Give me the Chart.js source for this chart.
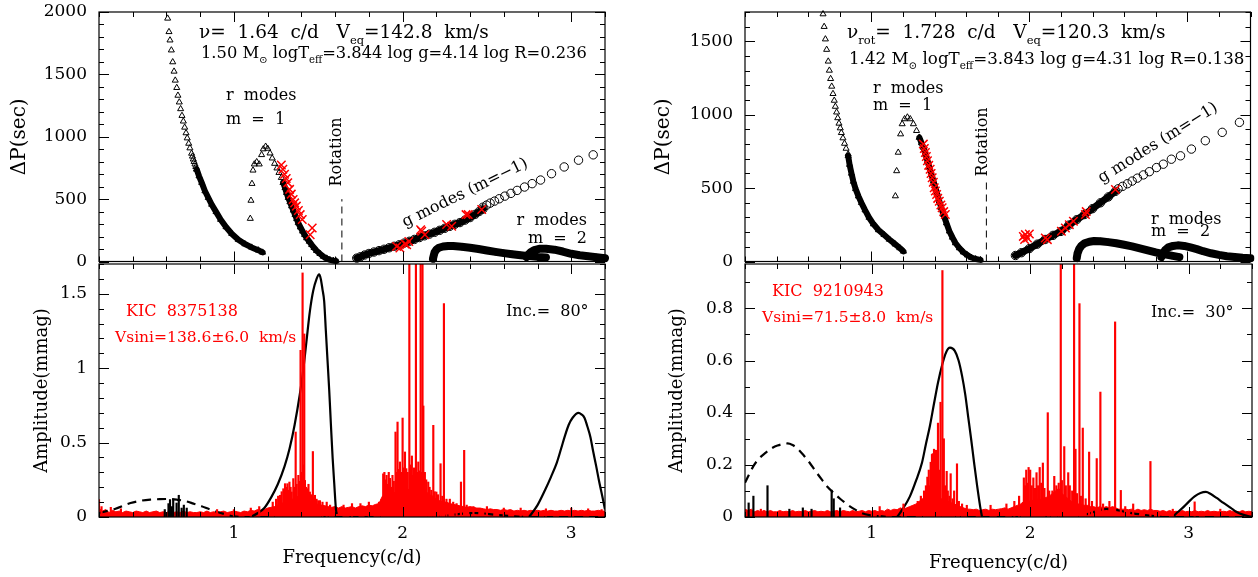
<!DOCTYPE html>
<html>
<head>
<meta charset="utf-8">
<script src="https://cdn.jsdelivr.net/npm/chart.js@4.4.1/dist/chart.umd.min.js"></script>
<style>
  body { margin: 0; background: #fff; width: 1258px; height: 577px; position: relative; overflow: hidden; }
  canvas { position: absolute; }
</style>
</head>
<body>
<canvas id="lt" width="615" height="269" style="left:0;top:0"></canvas>
<canvas id="lb" width="615" height="315" style="left:0;top:262px"></canvas>
<canvas id="rt" width="618" height="269" style="left:640px;top:0"></canvas>
<canvas id="rb" width="618" height="315" style="left:640px;top:262px"></canvas>
<script>
// ---------- KIC 8375138 (left) : period spacing model, [freq c/d, dP sec] ----------
const ltRot = 1.64;
const ltR1Sparse = [[0.607,1949],[0.615,1841],[0.621,1774],[0.629,1694],[0.637,1599],[0.645,1524],[0.652,1452],[0.661,1393],[0.668,1331],[0.676,1277],[0.684,1223],[0.692,1169],[0.700,1124],[0.708,1075],[0.716,1030],[0.723,989],[0.732,946],[0.739,909],[0.749,866],[0.754,843],[0.759,820],[0.764,800],[0.769,780],[0.774,760],[0.779,739]];
const ltR1Dense = [[0.779,739],[0.793,685],[0.809,632],[0.828,565],[0.848,511],[0.868,457],[0.894,398],[0.921,336],[0.953,277],[0.987,223],[1.026,175],[1.065,140],[1.105,113],[1.144,91],[1.170,73]];
const ltR1bSparse = [[1.097,344],[1.101,489],[1.107,624],[1.113,731],[1.121,780],[1.135,798],[1.150,780],[1.164,855],[1.174,901],[1.188,922],[1.200,906],[1.214,868],[1.227,828],[1.241,785],[1.255,748],[1.267,712],[1.281,672],[1.292,632]];
const ltR1bDense = [[1.292,632],[1.303,591],[1.312,551],[1.322,511],[1.332,477],[1.342,444],[1.352,410],[1.362,376],[1.372,342],[1.381,309],[1.394,275],[1.407,242],[1.419,215],[1.431,188],[1.446,161],[1.461,134],[1.475,110],[1.490,86],[1.510,62],[1.530,40],[1.550,25],[1.569,13],[1.590,7],[1.605,4]];
const ltGSparse = [[2.476,435],[2.498,452],[2.519,468],[2.545,484],[2.573,503],[2.606,524],[2.642,546],[2.679,570],[2.723,597],[2.768,624],[2.818,653],[2.883,704],[2.958,758],[3.043,812],[3.130,855]];
const ltGDense = [[1.728,27],[1.750,38],[1.775,52],[1.800,64],[1.830,76],[1.860,87],[1.890,98],[1.920,110],[1.950,122],[1.980,134],[2.010,148],[2.040,162],[2.070,177],[2.100,192],[2.130,206],[2.160,220],[2.190,234],[2.220,250],[2.250,266],[2.280,282],[2.310,298],[2.340,312],[2.370,332],[2.400,352],[2.430,378],[2.455,402],[2.476,420]];
const ltR2a = [[2.180,22],[2.185,50],[2.190,75],[2.200,95],[2.215,110],[2.240,120],[2.270,125],[2.300,124],[2.350,118],[2.400,110],[2.450,100],[2.500,88],[2.550,77],[2.600,67],[2.650,58],[2.700,50],[2.750,43],[2.800,37],[2.850,33]];
const ltR2b = [[2.735,35],[2.745,55],[2.760,75],[2.780,92],[2.810,102],[2.850,102],[2.900,95],[2.950,80],[3.000,62],[3.050,50],[3.100,42],[3.150,34],[3.200,27]];
const ltObsR = [[1.281,774],[1.290,740],[1.300,699],[1.310,665],[1.319,632],[1.330,578],[1.340,540],[1.351,497],[1.360,470],[1.370,444],[1.382,409],[1.393,376],[1.405,336],[1.452,215],[1.464,269]];
const ltObsG = [[1.965,121],[1.984,108],[2.014,140],[2.024,134],[2.037,161],[2.107,255],[2.113,242],[2.132,215],[2.261,296],[2.291,282],[2.376,376],[2.389,376],[2.469,417]];

// ---------- KIC 9210943 (right) ----------
const rtRot = 1.728;
const rtR1Sparse = [[0.694,1686],[0.701,1600],[0.709,1515],[0.717,1444],[0.727,1364],[0.734,1302],[0.742,1245],[0.749,1193],[0.757,1143],[0.765,1097],[0.772,1056],[0.780,1017],[0.787,978],[0.795,941],[0.803,909],[0.810,877],[0.820,841],[0.830,804],[0.840,770],[0.853,731]];
const rtR1Dense = [[0.853,720],[0.862,660],[0.874,600],[0.886,545],[0.900,495],[0.918,445],[0.937,400],[0.960,350],[0.985,300],[1.013,255],[1.045,215],[1.080,182],[1.114,150],[1.150,118],[1.180,92],[1.203,69]];
const rtR1bSparse = [[1.152,446],[1.160,617],[1.170,743],[1.185,868],[1.195,937],[1.210,971],[1.228,983],[1.246,971],[1.266,937],[1.286,891],[1.304,845]];
const rtR1bDense = [[1.304,845],[1.317,808],[1.329,777],[1.342,730],[1.355,686],[1.368,640],[1.380,594],[1.393,548],[1.405,503],[1.418,457],[1.430,411],[1.443,366],[1.456,320],[1.475,262],[1.494,206],[1.513,164],[1.532,126],[1.557,92],[1.582,64],[1.608,43],[1.633,27],[1.660,17],[1.691,11]];
const rtGSparse = [[2.562,495],[2.590,512],[2.621,530],[2.651,548],[2.684,568],[2.722,590],[2.760,612],[2.805,640],[2.848,663],[2.899,697],[2.957,720],[3.026,766],[3.114,823],[3.221,880],[3.330,948]];
const rtGDense = [[1.912,41],[1.950,60],[2.000,88],[2.050,118],[2.100,150],[2.150,178],[2.200,205],[2.250,248],[2.300,285],[2.350,320],[2.400,360],[2.450,400],[2.500,440],[2.545,478]];
const rtR2a = [[2.300,23],[2.305,55],[2.315,85],[2.330,108],[2.350,124],[2.380,135],[2.410,140],[2.450,138],[2.500,132],[2.550,124],[2.600,114],[2.650,103],[2.700,90],[2.750,76],[2.800,62],[2.850,50],[2.900,40],[2.950,30]];
const rtR2b = [[2.836,30],[2.845,55],[2.860,78],[2.880,96],[2.910,106],[2.940,110],[2.980,106],[3.020,96],[3.060,84],[3.100,70],[3.150,56],[3.200,45],[3.250,36],[3.300,30],[3.350,25],[3.400,22]];
const rtObsR = [[1.329,800],[1.335,770],[1.342,743],[1.348,715],[1.355,686],[1.363,655],[1.372,628],[1.378,600],[1.385,571],[1.392,540],[1.398,503],[1.405,480],[1.413,457],[1.420,430],[1.430,411],[1.440,385],[1.448,366],[1.458,340],[1.468,320]];
const rtObsG = [[1.962,171],[1.970,150],[1.975,183],[1.988,160],[2.000,187],[2.101,160],[2.114,149],[2.203,206],[2.228,228],[2.253,251],[2.279,274],[2.355,320],[2.360,340],[2.545,491]];

// ---------- amplitude spectra (mmag) ----------
// noise floor sampled every 0.02 c/d from 0.2
const lbNoise = [
  0.06,0.04,0.05,0.03,0.045,0.035,0.04,0.03,0.04,0.035,
  0.03,0.04,0.035,0.03,0.04,0.03,0.035,0.04,0.03,0.035,
  0.03,0.04,0.03,0.035,0.03,0.04,0.03,0.035,0.03,0.03,
  0.035,0.03,0.04,0.03,0.035,0.03,0.035,0.04,0.03,0.035,
  0.04,0.035,0.03,0.04,0.035,0.045,0.04,0.05,0.045,0.05,
  0.06,0.065,0.07,0.08,0.09,0.1,0.11,0.12,0.12,0.14,
  0.15,0.13,0.11,0.1,0.09,0.085,0.08,0.075,0.07,0.065,
  0.07,0.06,0.07,0.06,0.065,0.07,0.06,0.07,0.075,0.07,
  0.08,0.075,0.085,0.09,0.14,0.16,0.15,0.17,0.16,0.17,
  0.18,0.17,0.19,0.2,0.22,0.2,0.21,0.17,0.15,0.14,
  0.12,0.11,0.1,0.1,0.09,0.085,0.08,0.075,0.07,0.065,
  0.07,0.065,0.06,0.06,0.055,0.05,0.055,0.05,0.05,0.045,
  0.05,0.045,0.05,0.04,0.045,0.04,0.045,0.04,0.045,0.04,
  0.045,0.04,0.045,0.04,0.045,0.04,0.04,0.045,0.04,0.045,
  0.04,0.045,0.04,0.045,0.04,0.045,0.04,0.04,0.045,0.04,
  0.04];
const rbNoise = [
  0.03,0.025,0.03,0.02,0.025,0.02,0.025,0.02,0.025,0.02,
  0.02,0.025,0.02,0.022,0.02,0.025,0.02,0.022,0.02,0.025,
  0.02,0.022,0.025,0.02,0.022,0.02,0.025,0.02,0.022,0.025,
  0.02,0.025,0.022,0.02,0.025,0.02,0.022,0.025,0.02,0.025,
  0.022,0.025,0.02,0.025,0.022,0.03,0.025,0.03,0.028,0.035,
  0.03,0.035,0.04,0.045,0.05,0.06,0.07,0.08,0.09,0.1,
  0.11,0.08,0.07,0.065,0.06,0.055,0.05,0.045,0.04,0.035,
  0.03,0.03,0.028,0.03,0.025,0.028,0.03,0.025,0.03,0.028,
  0.03,0.032,0.035,0.03,0.035,0.04,0.045,0.05,0.06,0.065,
  0.06,0.065,0.07,0.065,0.07,0.075,0.08,0.09,0.1,0.11,
  0.09,0.08,0.07,0.06,0.055,0.05,0.05,0.045,0.045,0.04,
  0.04,0.035,0.04,0.035,0.04,0.035,0.04,0.035,0.03,0.03,
  0.03,0.028,0.03,0.025,0.03,0.025,0.028,0.025,0.03,0.025,
  0.025,0.022,0.025,0.02,0.025,0.02,0.022,0.02,0.025,0.02,
  0.022,0.02,0.025,0.02,0.022,0.02,0.025,0.02,0.022,0.02,
  0.02,0.022,0.02,0.025,0.02,0.022,0.02,0.025,0.02,0.022,
  0.02];
const noiseStart = 0.2, noiseStep = 0.02;

const lbPeaks = [[0.2,0.117],[0.215,0.07],[0.27,0.065],[0.33,0.055],[0.9,0.05],[1.0,0.05],[1.1,0.06],[1.15,0.07],
  [1.23,0.1],[1.25,0.12],[1.262,0.14],[1.273,0.146],[1.283,0.17],[1.293,0.19],[1.303,0.224],[1.31,0.2],[1.317,0.224],[1.323,0.18],[1.329,0.235],[1.336,0.2],[1.342,0.168],[1.352,0.258],[1.358,0.2],[1.366,0.571],[1.372,0.22],[1.382,0.28],[1.388,0.24],[1.395,1.12],[1.401,0.3],[1.407,1.64],[1.412,0.35],[1.417,1.23],[1.421,0.246],[1.428,0.2],[1.435,0.19],[1.442,0.22],[1.45,0.168],[1.458,0.15],[1.468,0.44],[1.475,0.13],[1.48,0.146],[1.49,0.12],[1.5,0.11],[1.51,0.11],[1.525,0.1],[1.55,0.1],[1.57,0.08],
  [1.65,0.08],[1.7,0.09],[1.75,0.09],[1.8,0.1],
  [1.86,0.1],[1.875,0.12],[1.885,0.29],[1.892,0.3],[1.9,0.25],[1.905,0.28],[1.912,0.22],[1.918,0.3],[1.925,0.26],[1.932,0.2],[1.94,0.28],[1.948,0.24],[1.958,0.571],[1.964,0.3],[1.97,0.638],[1.977,0.32],[1.984,0.37],[1.992,0.3],[2.0,0.665],[2.007,0.33],[2.014,0.437],[2.022,0.325],[2.03,0.3],[2.04,1.8],[2.048,0.35],[2.055,0.41],[2.061,0.28],[2.068,0.33],[2.079,1.8],[2.086,0.3],[2.093,0.37],[2.1,0.31],[2.107,1.8],[2.112,0.3],[2.118,1.8],[2.123,0.746],[2.132,0.3],[2.14,0.25],[2.152,0.235],[2.16,0.2],[2.17,0.18],[2.182,0.616],[2.19,0.17],[2.2,0.168],[2.21,0.15],[2.225,0.358],[2.235,0.14],[2.245,1.434],[2.26,0.12],[2.28,0.12],[2.3,0.1],[2.32,0.09],[2.346,0.235],[2.365,0.448],[2.38,0.08],[2.42,0.07],
  [2.5,0.07],[2.6,0.06],[2.7,0.06],[2.85,0.055],[3.0,0.06],[3.1,0.055],[3.18,0.05]];
const lbPeaksBlack = [[0.59,0.05],[0.612,0.09],[0.621,0.117],[0.632,0.07],[0.64,0.121],[0.66,0.094],[0.673,0.146],[0.69,0.06],[0.703,0.08],[0.72,0.06]];
const lbModelA = [[1.10,0],[1.14,0.025],[1.18,0.06],[1.22,0.13],[1.26,0.22],[1.30,0.34],[1.33,0.46],[1.36,0.62],[1.39,0.82],[1.41,0.98],[1.43,1.18],[1.45,1.38],[1.47,1.52],[1.49,1.6],[1.505,1.63],[1.515,1.6],[1.525,1.53],[1.535,1.45],[1.545,1.25],[1.555,1.05],[1.565,0.85],[1.575,0.62],[1.585,0.4],[1.595,0.22],[1.605,0.05],[1.61,0.02]];
const lbModelB = [[2.75,0],[2.80,0.08],[2.844,0.18],[2.88,0.27],[2.914,0.364],[2.94,0.46],[2.961,0.54],[2.985,0.62],[3.008,0.667],[3.043,0.70],[3.06,0.69],[3.078,0.667],[3.095,0.61],[3.113,0.54],[3.13,0.44],[3.148,0.34],[3.165,0.24],[3.184,0.14],[3.2,0.05]];
const lbModelDash = [[0.2,0.027],[0.294,0.054],[0.387,0.094],[0.45,0.11],[0.504,0.117],[0.56,0.12],[0.621,0.121],[0.67,0.115],[0.715,0.106],[0.76,0.09],[0.808,0.072],[0.855,0.052],[0.902,0.034],[0.95,0.018],[0.996,0.005],[1.066,0],[1.5,0],[2.19,0],[2.25,0.008],[2.306,0.016],[2.36,0.023],[2.423,0.027],[2.48,0.024],[2.54,0.016],[2.6,0.01],[2.657,0.005],[2.727,0],[3.2,0]];

const rbPeaks = [[0.3,0.03],[1.05,0.04],[1.2,0.05],[1.29,0.06],[1.31,0.08],[1.33,0.1],[1.342,0.12],[1.351,0.153],[1.36,0.18],[1.366,0.12],[1.372,0.21],[1.38,0.24],[1.385,0.243],[1.393,0.26],[1.4,0.15],[1.406,0.256],[1.412,0.2],[1.418,0.36],[1.425,0.18],[1.434,0.44],[1.446,0.945],[1.455,0.3],[1.462,0.12],[1.473,0.175],[1.48,0.1],[1.49,0.08],[1.498,0.166],[1.51,0.07],[1.52,0.1],[1.538,0.204],[1.55,0.06],[1.57,0.05],[1.6,0.045],[1.75,0.045],[1.85,0.05],
  [1.9,0.06],[1.93,0.08],[1.96,0.15],[1.968,0.12],[1.975,0.18],[1.982,0.13],[1.99,0.19],[2.0,0.18],[2.01,0.12],[2.02,0.15],[2.03,0.11],[2.04,0.17],[2.05,0.12],[2.06,0.19],[2.07,0.13],[2.08,0.207],[2.09,0.11],[2.111,0.4],[2.12,0.1],[2.14,0.1],[2.152,0.156],[2.165,0.12],[2.18,0.13],[2.193,1.0],[2.2,0.14],[2.215,0.27],[2.225,0.12],[2.24,0.17],[2.25,0.12],[2.265,0.1],[2.277,1.0],[2.286,0.26],[2.295,0.09],[2.311,0.818],[2.32,0.08],[2.332,0.341],[2.35,0.07],[2.372,0.249],[2.39,0.06],[2.42,0.224],[2.443,0.479],[2.46,0.05],[2.5,0.06],[2.536,0.748],[2.572,0.102],[2.6,0.04],[2.65,0.05],[2.759,0.213],[2.9,0.03],[3.038,0.058],[3.2,0.03]];
const rbPeaksBlack = [[0.223,0.054],[0.253,0.08],[0.342,0.12],[0.48,0.03],[0.565,0.035],[0.62,0.03],[0.747,0.103],[0.76,0.07],[0.8,0.035]];
const rbModelA = [[1.16,0],[1.20,0.035],[1.241,0.079],[1.28,0.14],[1.317,0.208],[1.342,0.28],[1.367,0.349],[1.393,0.435],[1.418,0.515],[1.445,0.585],[1.469,0.631],[1.494,0.649],[1.524,0.637],[1.548,0.6],[1.57,0.541],[1.59,0.47],[1.608,0.387],[1.627,0.3],[1.646,0.208],[1.665,0.12],[1.684,0.041],[1.696,0]];
const rbModelB = [[2.899,0],[2.93,0.018],[2.962,0.035],[3.0,0.058],[3.038,0.079],[3.075,0.092],[3.109,0.096],[3.14,0.088],[3.177,0.073],[3.22,0.054],[3.266,0.035],[3.30,0.02],[3.342,0.009],[3.4,0]];
const rbModelDash = [[0.2,0.131],[0.253,0.195],[0.29,0.225],[0.329,0.246],[0.37,0.264],[0.405,0.274],[0.468,0.282],[0.5,0.276],[0.532,0.262],[0.57,0.237],[0.608,0.208],[0.645,0.176],[0.684,0.144],[0.72,0.116],[0.76,0.092],[0.8,0.07],[0.848,0.047],[0.89,0.03],[0.937,0.015],[0.985,0.007],[1.038,0.003],[1.139,0],[2.304,0],[2.34,0.007],[2.38,0.015],[2.43,0.025],[2.481,0.031],[2.53,0.028],[2.583,0.022],[2.65,0.014],[2.709,0.009],[2.77,0.004],[2.836,0],[3.4,0]];

// ---------- helpers ----------
const FONT = '"DejaVu Serif", serif';
const RED = '#ff0000';
const pts = a => a.map(p => ({ x: p[0], y: p[1] }));

function model(data, style, r, band) {
  return {
    type: 'line', data: pts(data), showLine: !!band, borderColor: '#000', borderWidth: band || 0,
    borderCapStyle: 'round', borderJoinStyle: 'round', tension: 0,
    pointStyle: style, pointRadius: r, pointBorderColor: '#000', pointBackgroundColor: 'rgba(0,0,0,0)',
    pointBorderWidth: 1, order: 3, clip: 4
  };
}
function observed(data) {
  return {
    type: 'line', data: pts(data), showLine: false, pointStyle: 'crossRot', pointRadius: 6,
    pointBorderColor: RED, pointBackgroundColor: RED, pointBorderWidth: 1.5, order: 1, clip: 4
  };
}
function rotLine(f, top) {
  return {
    type: 'line', data: pts([[f, 0], [f, top]]), borderColor: '#000', borderWidth: 1,
    borderDash: [7, 5], pointRadius: 0, order: 2
  };
}
function curve(data, dashed) {
  return {
    type: 'line', data: pts(data), borderColor: '#000', borderWidth: 2.2, borderDash: dashed ? [9, 6] : [],
    pointRadius: 0, cubicInterpolationMode: 'monotone', order: 3, clip: 0
  };
}
function peaks(data, color, ord) {
  return { type: 'bar', data: pts(data), backgroundColor: color, barThickness: 1.5, grouped: false, order: ord, clip: 0 };
}
function noise(vals) {
  return {
    type: 'line', data: vals.map((v, i) => ({ x: +(noiseStart + i * noiseStep).toFixed(3), y: v })),
    borderColor: RED, backgroundColor: RED, borderWidth: 1, fill: 'origin', pointRadius: 0, tension: 0, order: 5, clip: 0
  };
}

// text made of normal parts (strings) and subscript parts ([string])
function rich(ctx, parts, size) {
  const segs = parts.map(p => Array.isArray(p) ? { t: p[0], s: size * 0.62, dy: size * 0.3 } : { t: p, s: size, dy: 0 });
  let w = 0;
  segs.forEach(g => { ctx.font = g.s + 'px ' + FONT; g.w = ctx.measureText(g.t).width; w += g.w; });
  return { segs, w };
}

function decor(cfg) {
  return {
    id: 'decor',
    afterDatasetsDraw(chart) {
      const { ctx } = chart;
      (cfg.notes || []).forEach(n => {
        ctx.save();
        ctx.fillStyle = n.color || '#000';
        ctx.textBaseline = n.rot !== undefined ? 'middle' : 'alphabetic';
        const r = rich(ctx, n.parts, n.size);
        ctx.translate(n.x, n.y);
        let x0 = 0;
        if (n.rot !== undefined) { ctx.rotate(n.rot * Math.PI / 180); x0 = -r.w / 2; }
        else if (n.align === 'right') x0 = -r.w;
        r.segs.forEach(g => {
          ctx.font = g.s + 'px ' + FONT;
          ctx.fillText(g.t, x0, g.dy);
          x0 += g.w;
        });
        ctx.restore();
      });
    },
    afterDraw(chart) {
      const { ctx, chartArea: a, scales: { x, y } } = chart;
      ctx.save();
      ctx.strokeStyle = '#000';
      ctx.lineWidth = 1.2;
      ctx.strokeRect(a.left, a.top, a.right - a.left, a.bottom - a.top);
      ctx.lineWidth = 1;
      ctx.beginPath();
      for (let n = Math.ceil(x.min / cfg.xMinor - 1e-6); n * cfg.xMinor <= x.max + 1e-6; n++) {
        const v = n * cfg.xMinor, px = Math.round(x.getPixelForValue(v)) + 0.5;
        const L = Math.abs(v - Math.round(v)) < 1e-6 ? 10 : 5;
        ctx.moveTo(px, a.bottom); ctx.lineTo(px, a.bottom - L);
        ctx.moveTo(px, a.top); ctx.lineTo(px, a.top + L);
      }
      for (let n = 0; n * cfg.yMinor <= y.max + 1e-9; n++) {
        const v = n * cfg.yMinor, py = Math.round(y.getPixelForValue(v)) + 0.5;
        const r = v / cfg.yMajor;
        const L = Math.abs(r - Math.round(r)) < 1e-6 ? 10 : 5;
        ctx.moveTo(a.left, py); ctx.lineTo(a.left + L, py);
        ctx.moveTo(a.right, py); ctx.lineTo(a.right - L, py);
      }
      ctx.stroke();
      ctx.restore();
    }
  };
}

function yScale(max, ticks, title, width, titlePad) {
  return {
    type: 'linear', min: 0, max: max,
    afterFit: s => { s.width = width; s.paddingTop = 0; s.paddingBottom = 0; },
    afterBuildTicks: s => { s.ticks = ticks.map(v => ({ value: v })); },
    grid: { display: false, drawTicks: false }, border: { display: false },
    ticks: { color: '#000', padding: 12, font: { family: FONT, size: 17 }, callback: v => String(+v.toFixed(2)) },
    title: { display: true, text: title, color: '#000', font: { family: FONT, size: title.startsWith('Δ') ? 20 : 18 }, padding: { top: titlePad, bottom: 0 } }
  };
}
function xScale(max, bottom, titlePad) {
  const s = {
    type: 'linear', min: 0.2, max: max, offset: false, display: bottom,
    afterFit: sc => { sc.height = bottom ? 60 : 0; sc.paddingLeft = 0; sc.paddingRight = 0; },
    afterBuildTicks: sc => { sc.ticks = [1, 2, 3].map(v => ({ value: v })); },
    grid: { display: false, drawTicks: false }, border: { display: false },
    ticks: { color: '#000', padding: 6, font: { family: FONT, size: 17 }, callback: v => String(v) }
  };
  if (bottom) {
    s.title = { display: true, text: 'Frequency(c/d)', color: '#000', font: { family: FONT, size: 18 }, padding: { top: 0, bottom: titlePad } };
  }
  return s;
}

function make(id, datasets, scales, padding, cfg) {
  new Chart(document.getElementById(id), {
    type: 'scatter',
    data: { datasets },
    options: {
      responsive: false, animation: false, devicePixelRatio: 1,
      layout: { padding },
      plugins: { legend: { display: false }, tooltip: { enabled: false } },
      scales
    },
    plugins: [decor(cfg)]
  });
}

// ---------- top left ----------
make('lt', [
  observed(ltObsR), observed(ltObsG),
  rotLine(ltRot, 500),
  model(ltR1Sparse, 'triangle', 3.5), model(ltR1Dense, 'triangle', 3.5, 6),
  model(ltR1bSparse, 'triangle', 3.5), model(ltR1bDense, 'triangle', 3.5, 6),
  model(ltGSparse, 'circle', 4.2), model(ltGDense, 'circle', 4.2, 7),
  model(ltR2a, 'circle', 3, 8), model(ltR2b, 'circle', 3, 8)
], {
  x: xScale(3.2, false),
  y: yScale(2000, [0, 500, 1000, 1500, 2000], 'ΔP(sec)', 99, 8)
}, { top: 12, right: 10, bottom: 2, left: 0 }, {
  xMinor: 0.2, yMajor: 500, yMinor: 100,
  notes: [
    { x: 199, y: 38, size: 18.5, parts: ['ν=  1.64  c/d   V', ['eq'], '=142.8  km/s'] },
    { x: 201, y: 58, size: 16.3, parts: ['1.50 M', ['⊙'], ' logT', ['eff'], '=3.844 log g=4.14 log R=0.236'] },
    { x: 226, y: 100, size: 16, parts: ['r  modes'] },
    { x: 226, y: 124, size: 16, parts: ['m  =  1'] },
    { x: 337, y: 152, size: 16, rot: -90, parts: ['Rotation'] },
    { x: 465, y: 193, size: 16, rot: -26, parts: ['g modes (m=−1)'] },
    { x: 587, y: 225, size: 16, align: 'right', parts: ['r  modes'] },
    { x: 587, y: 243, size: 16, align: 'right', parts: ['m  =  2'] }
  ]
});

// ---------- top right ----------
make('rt', [
  observed(rtObsR), observed(rtObsG),
  rotLine(rtRot, 548),
  model(rtR1Sparse, 'triangle', 3.5), model(rtR1Dense, 'triangle', 3.5, 6),
  model(rtR1bSparse, 'triangle', 3.5), model(rtR1bDense, 'triangle', 3.5, 6),
  model(rtGSparse, 'circle', 4.2), model(rtGDense, 'circle', 4.2, 7),
  model(rtR2a, 'circle', 3, 8), model(rtR2b, 'circle', 3, 8)
], {
  x: xScale(3.4, false),
  y: yScale(1700, [0, 500, 1000, 1500], 'ΔP(sec)', 105, 12)
}, { top: 12, right: 6, bottom: 2, left: 0 }, {
  xMinor: 0.2, yMajor: 500, yMinor: 100,
  notes: [
    { x: 207, y: 38, size: 18.5, parts: ['ν', ['rot'], '=  1.728  c/d   V', ['eq'], '=120.3  km/s'] },
    { x: 209, y: 64, size: 16.7, parts: ['1.42 M', ['⊙'], ' logT', ['eff'], '=3.843 log g=4.31 log R=0.138'] },
    { x: 233, y: 93, size: 16, parts: ['r  modes'] },
    { x: 233, y: 110, size: 16, parts: ['m  =  1'] },
    { x: 343, y: 142, size: 16, rot: -90, parts: ['Rotation'] },
    { x: 518, y: 143, size: 16, rot: -32, parts: ['g modes (m=−1)'] },
    { x: 511, y: 224, size: 16, parts: ['r  modes'] },
    { x: 511, y: 236, size: 16, parts: ['m  =  2'] }
  ]
});

// ---------- bottom left ----------
make('lb', [
  peaks(lbPeaksBlack, '#000', 1),
  peaks(lbPeaks, RED, 2),
  curve(lbModelA), curve(lbModelB), curve(lbModelDash, true),
  noise(lbNoise)
], {
  x: xScale(3.2, true, 8),
  y: yScale(1.7, [0, 0.5, 1, 1.5], 'Amplitude(mmag)', 99, 32)
}, { top: 2, right: 10, bottom: 0, left: 0 }, {
  xMinor: 0.2, yMajor: 0.5, yMinor: 0.1,
  notes: [
    { x: 126, y: 54, size: 16, color: RED, parts: ['KIC  8375138'] },
    { x: 115, y: 80, size: 15.5, color: RED, parts: ['Vsini=138.6±6.0  km/s'] },
    { x: 506, y: 54, size: 16, parts: ['Inc.=  80°'] }
  ]
});

// ---------- bottom right ----------
make('rb', [
  peaks(rbPeaksBlack, '#000', 1),
  peaks(rbPeaks, RED, 2),
  curve(rbModelA), curve(rbModelB), curve(rbModelDash, true),
  noise(rbNoise)
], {
  x: xScale(3.4, true, 3),
  y: yScale(0.97, [0, 0.2, 0.4, 0.6, 0.8], 'Amplitude(mmag)', 105, 27)
}, { top: 2, right: 6, bottom: 0, left: 0 }, {
  xMinor: 0.2, yMajor: 0.2, yMinor: 0.1,
  notes: [
    { x: 132, y: 34, size: 16, color: RED, parts: ['KIC  9210943'] },
    { x: 122, y: 60, size: 15.5, color: RED, parts: ['Vsini=71.5±8.0  km/s'] },
    { x: 511, y: 55, size: 16, parts: ['Inc.=  30°'] }
  ]
});
</script>
</body>
</html>
